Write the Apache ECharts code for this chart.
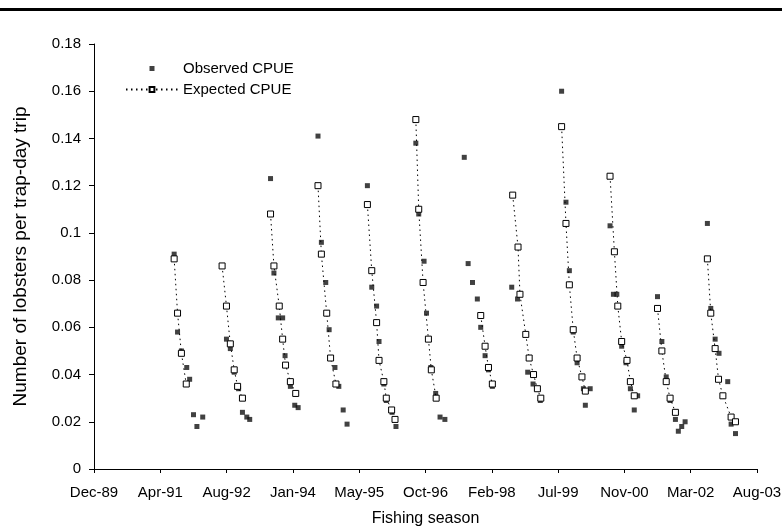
<!DOCTYPE html>
<html><head><meta charset="utf-8">
<script src="https://cdn.jsdelivr.net/npm/echarts@6/dist/echarts.min.js"></script>
<style>html,body{margin:0;padding:0;background:#fff}#c{width:782px;height:531px}</style>
</head><body><div id="c"></div>
<script>
// Axis start: 1 Dec 1989; ticks every 500 days
const axisStartYear = 1989 + 334 / 365;
const tickStepDays = 500;
const xTickLabels = ['Dec-89','Apr-91','Aug-92','Jan-94','May-95','Oct-96','Feb-98','Jul-99','Nov-00','Mar-02','Aug-03'];
const yTicks = [0,0.02,0.04,0.06,0.08,0.1,0.12,0.14,0.16,0.18];

// Observed CPUE (dates as decimal years)
const obsDates = [
1991.57,1991.64,1991.72,1991.83,1991.89,1991.97,1992.04,1992.16,
1992.65,1992.73,1992.81,1992.90,1992.98,1993.07,1993.13,
1993.56,1993.63,1993.72,1993.81,1993.86,1993.97,1994.06,1994.13,
1994.54,1994.61,1994.70,1994.77,1994.89,1994.97,1995.06,1995.14,
1995.56,1995.65,1995.75,1995.80,1995.90,1995.95,1996.07,1996.15,
1996.56,1996.62,1996.73,1996.78,1996.87,1996.97,1997.06,1997.16,
1997.56,1997.64,1997.73,1997.83,1997.90,1997.99,1998.06,1998.14,
1998.54,1998.66,1998.83,1998.87,1998.98,1999.13,
1999.57,1999.66,1999.73,1999.81,1999.89,2000.02,2000.06,2000.16,
2000.57,2000.64,2000.71,2000.81,2000.90,2000.99,2001.07,2001.14,
2001.55,2001.64,2001.73,2001.81,2001.92,2001.98,2002.05,2002.12,
2002.58,2002.65,2002.74,2002.82,2003.00,2003.07,2003.16
];
const observed = [
0.091,0.058,0.050,0.043,0.038,0.023,0.018,0.022,
0.055,0.051,0.041,0.034,0.024,0.022,0.021,
0.123,0.083,0.064,0.064,0.048,0.035,0.027,0.026,
0.141,0.096,0.079,0.059,0.043,0.035,0.025,0.019,
0.120,0.077,0.069,0.054,0.036,0.029,0.024,0.018,
0.138,0.108,0.088,0.066,0.043,0.032,0.022,0.021,
0.132,0.087,0.079,0.072,0.060,0.048,0.042,0.035,
0.077,0.072,0.057,0.041,0.036,0.029,
0.160,0.113,0.084,0.058,0.045,0.034,0.027,0.034,
0.103,0.074,0.074,0.052,0.045,0.034,0.025,0.031,
0.073,0.054,0.039,0.029,0.021,0.016,0.018,0.020,
0.104,0.068,0.055,0.049,0.037,0.019,0.015
];

// Expected CPUE
const expDates = [
1991.57,1991.64,1991.72,1991.82,
1992.56,1992.65,1992.73,1992.81,1992.88,1992.98,
1993.56,1993.63,1993.74,1993.81,1993.87,1993.97,1994.08,
1994.54,1994.61,1994.72,1994.80,1994.91,
1995.56,1995.65,1995.75,1995.80,1995.90,1995.95,1996.06,1996.13,
1996.56,1996.62,1996.71,1996.82,1996.88,1996.98,
1997.90,1997.99,1998.06,1998.14,
1998.56,1998.67,1998.71,1998.83,1998.90,1998.99,1999.07,1999.14,
1999.57,1999.66,1999.73,1999.81,1999.89,1999.99,2000.06,
2000.57,2000.66,2000.73,2000.81,2000.92,2000.99,2001.07,
2001.55,2001.64,2001.73,2001.81,2001.92,
2002.58,2002.65,2002.74,2002.81,2002.90,2003.07,2003.16
];
const expected = [
0.089,0.066,0.049,0.036,
0.086,0.069,0.053,0.042,0.035,0.030,
0.108,0.086,0.069,0.055,0.044,0.037,0.032,
0.120,0.091,0.066,0.047,0.036,
0.112,0.084,0.062,0.046,0.037,0.030,0.025,0.021,
0.148,0.110,0.079,0.055,0.042,0.030,
0.065,0.052,0.043,0.036,
0.116,0.094,0.074,0.057,0.047,0.040,0.034,0.030,
0.145,0.104,0.078,0.059,0.047,0.039,0.033,
0.124,0.092,0.069,0.054,0.046,0.037,0.031,
0.068,0.050,0.037,0.030,0.024,
0.089,0.066,0.051,0.038,0.031,0.022,0.020
];

const toDays = t => (t - axisStartYear) * 365.25;
const obsData = obsDates.map((t, i) => [toDays(t), observed[i]]);
const expData = [];
expDates.forEach((t, i) => {
  if (i > 0 && t - expDates[i - 1] > 0.3) expData.push([toDays((t + expDates[i - 1]) / 2), '-']);
  expData.push([toDays(t), expected[i]]);
});

const FONT = "'Liberation Sans', Arial, sans-serif";
const chart = echarts.init(document.getElementById('c'), null, {renderer: 'canvas'});
chart.setOption({
  animation: false,
  backgroundColor: '#fff',
  graphic: [{type: 'rect', left: 0, top: 8, shape: {width: 782, height: 3}, style: {fill: '#000'}}],
  grid: {left: 94, right: 25, top: 44, bottom: 62, containLabel: false, outerBoundsMode: 'none'},
  legend: {
    orient: 'vertical', left: 120, top: 56, itemWidth: 52, itemHeight: 6, itemGap: 6,
    textStyle: {fontSize: 15, color: '#000', fontFamily: FONT},
    data: [
      {name: 'Observed CPUE', icon: 'path://M0,3L0.01,3M23.5,0.5h5v5h-5zM52,3L51.99,3'},
      {name: 'Expected CPUE'}
    ]
  },
  xAxis: {
    type: 'value', min: 0, max: tickStepDays * (xTickLabels.length - 1), interval: tickStepDays,
    name: 'Fishing season', nameLocation: 'middle', nameGap: 42,
    nameTextStyle: {fontSize: 16, color: '#000', fontFamily: FONT},
    axisLine: {lineStyle: {color: '#000', width: 1}},
    axisTick: {show: true, length: 4, lineStyle: {color: '#000'}},
    axisLabel: {color: '#000', fontSize: 15, fontFamily: FONT, margin: 16,
      formatter: v => xTickLabels[Math.round(v / tickStepDays)] || ''},
    splitLine: {show: false}
  },
  yAxis: {
    type: 'value', min: yTicks[0], max: yTicks[yTicks.length - 1], interval: 0.02,
    name: 'Number of lobsters per trap-day trip', nameLocation: 'middle', nameGap: 64,
    nameTextStyle: {fontSize: 19, color: '#000', fontFamily: FONT},
    axisLine: {show: true, lineStyle: {color: '#000', width: 1}},
    axisTick: {show: true, length: 5, lineStyle: {color: '#000'}},
    axisLabel: {color: '#000', fontSize: 15, fontFamily: FONT, margin: 13},
    splitLine: {show: false}
  },
  series: [
    {
      name: 'Observed CPUE', type: 'scatter', symbol: 'rect', symbolSize: 5,
      itemStyle: {color: '#111'}, data: obsData, z: 2, emphasis: {disabled: true}
    },
    {
      name: 'Expected CPUE', type: 'line', symbol: 'rect', symbolSize: 6, showAllSymbol: true,
      itemStyle: {color: '#fff', borderColor: '#000', borderWidth: 1},
      lineStyle: {color: '#000', width: 1, type: [1.5, 3.5]},
      data: expData, connectNulls: false, z: 3, emphasis: {disabled: true}
    }
  ]
});
</script></body></html>
